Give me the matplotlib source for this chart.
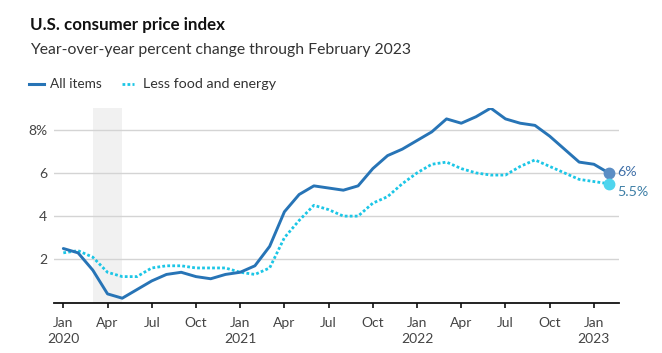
import matplotlib.pyplot as plt
from matplotlib.lines import Line2D

plt.rcParams['font.family'] = ['Lato', 'DejaVu Sans']

# monthly values, Jan 2020 .. Feb 2023
months = list(range(38))
all_items = [2.5, 2.3, 1.5, 0.4, 0.2, 0.6, 1.0, 1.3, 1.4, 1.2, 1.1, 1.3,
             1.4, 1.7, 2.6, 4.2, 5.0, 5.4, 5.3, 5.2, 5.4, 6.2, 6.8, 7.1,
             7.5, 7.9, 8.5, 8.3, 8.6, 9.0, 8.5, 8.3, 8.2, 7.7, 7.1, 6.5,
             6.4, 6.0]
core = [2.3, 2.4, 2.1, 1.4, 1.2, 1.2, 1.6, 1.7, 1.7, 1.6, 1.6, 1.6,
        1.4, 1.3, 1.6, 3.0, 3.8, 4.5, 4.3, 4.0, 4.0, 4.6, 4.9, 5.5,
        6.0, 6.4, 6.5, 6.2, 6.0, 5.9, 5.9, 6.3, 6.6, 6.3, 6.0, 5.7,
        5.6, 5.5]
tick_pos = list(range(0, 37, 3))
tick_labels = ['Jan\n2020', 'Apr', 'Jul', 'Oct', 'Jan\n2021', 'Apr', 'Jul', 'Oct',
               'Jan\n2022', 'Apr', 'Jul', 'Oct', 'Jan\n2023']
recession = (2, 4)

blue = '#2774b6'
cyan = '#1cc6e6'
txt = '#333333'

fig = plt.figure(figsize=(6.62, 3.53), dpi=100)
ax = fig.add_axes([0.0816, 0.143, 0.8534, 0.552])

ax.axvspan(recession[0], recession[1], color='#f1f1f1', lw=0, zorder=0)
ax.plot(months, core, color=cyan, lw=2.0, linestyle=(0, (1, 0.8)), zorder=3)
ax.plot(months, all_items, color=blue, lw=2.1, solid_joinstyle='round',
        solid_capstyle='round', zorder=4)
ax.plot(months[-1], all_items[-1], 'o', ms=7.5, color='#5b8dc4', zorder=5)
ax.plot(months[-1], core[-1], 'o', ms=7.5, color='#4fd5ee', zorder=5)
ax.annotate('6%', (months[-1], all_items[-1]), xytext=(6.5, 1), textcoords='offset points',
            va='center', ha='left', fontsize=10.3, color='#3f6fa8')
ax.annotate('5.5%', (months[-1], core[-1]), xytext=(6.5, -6), textcoords='offset points',
            va='center', ha='left', fontsize=10.3, color='#3d7ea6')

ax.set_xlim(-0.63, 37.7)
ax.set_ylim(0, 9.02)
ax.set_yticks([2, 4, 6, 8])
ax.set_yticklabels(['2', '4', '6', '8%'])
ax.set_xticks(tick_pos)
ax.set_xticklabels(tick_labels, linespacing=1.35)
ax.grid(axis='y', color='#d4d4d4', lw=1)
ax.set_axisbelow(True)
for s in ['top', 'right', 'left']:
    ax.spines[s].set_visible(False)
ax.spines['bottom'].set_color('#111111')
ax.spines['bottom'].set_linewidth(1.3)
ax.tick_params(axis='y', length=0, pad=5, labelsize=10, labelcolor='#444444')
ax.tick_params(axis='x', length=3.5, width=1.2, color='#111111', pad=7,
               labelsize=10, labelcolor='#444444')
for lab in ax.get_xticklabels():
    lab.set_verticalalignment('top')

fig.text(0.0453, 0.915, 'U.S. consumer price index', fontsize=12.2, fontweight='bold',
         color='#111111', va='baseline')
fig.text(0.0453, 0.847, 'Year-over-year percent change through February 2023',
         fontsize=11.3, color=txt, va='baseline')

# legend
ly = 1 - 84 / 353
fig.add_artist(Line2D([0.0438, 0.0665], [ly, ly], color=blue, lw=2.2))
fig.text(0.0755, ly, 'All items', fontsize=9.8, color=txt, va='center')
fig.add_artist(Line2D([0.184, 0.203], [ly, ly], color=cyan, lw=2.0, linestyle=(0, (1, 0.8))))
fig.text(0.216, ly, 'Less food and energy', fontsize=10.3, color=txt, va='center')

fig.savefig('out.png', dpi=100, facecolor='white')
